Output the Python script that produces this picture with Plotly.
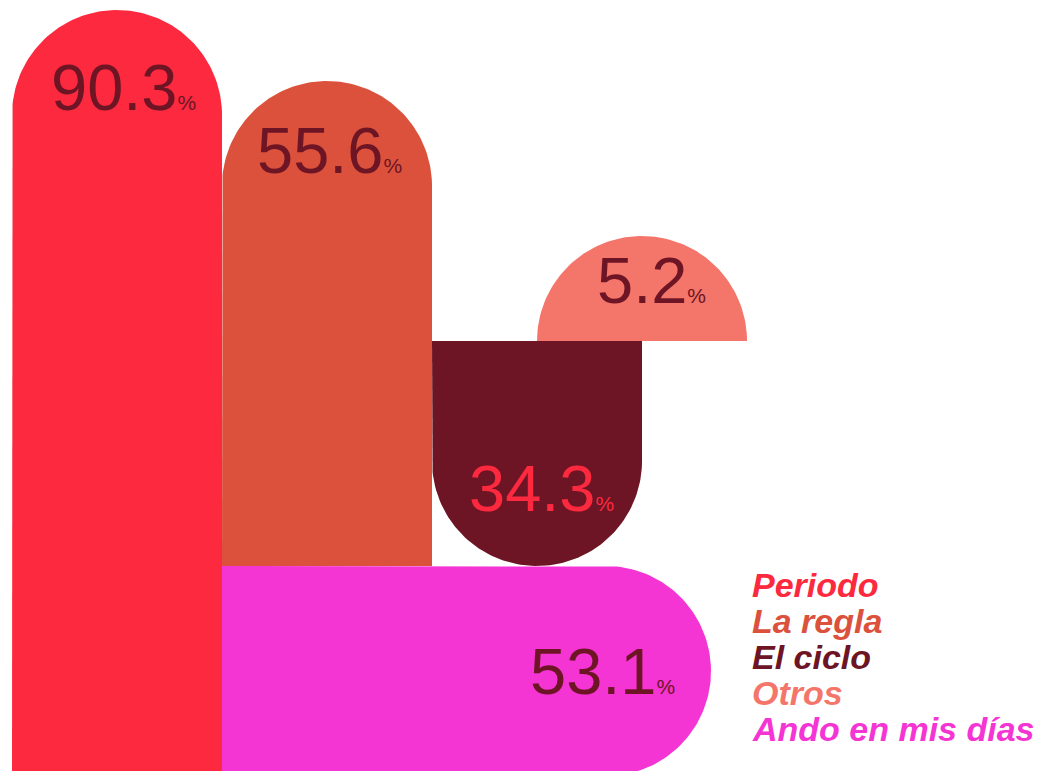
import numpy as np
import plotly.graph_objects as go

# ---------------- data ----------------
categories = ["Periodo", "La regla", "El ciclo", "Otros", "Ando en mis días"]
values = [90.3, 55.6, 34.3, 5.2, 53.1]

# ---------------- style ----------------
bar_colors = ["#FC293F", "#DC513B", "#6D1524", "#F4756A", "#F535D3"]
label_colors = ["#6D1524", "#6D1524", "#FC293F", "#6D1524", "#6D1524"]

# ---------------- infographic layout (pixel units) ----------------
W, H = 1038, 771
BAR_W = 210.0
R = BAR_W / 2
# each bar: (cross-axis start, base position, direction, extent)
geom = [
    (12.0, 776.0, "up", 766.0),
    (222.0, 566.0, "up", 485.0),
    (432.0, 341.0, "down", 225.0),
    (537.0, 341.0, "up", 105.0),
    (566.0, 222.0, "right", 489.0),
]
# label centre relative to the bar tip (along, across)
label_off = [(77, 6), (69, 2), (78, 4), (44, 9), (109, 0)]


def pill(c0, base, d, ext, n=90):
    """Polygon of a bar with a rounded (semicircular) tip."""
    cc = c0 + R
    if d in ("up", "down"):
        s = -1 if d == "up" else 1
        tipc = base + s * (ext - R)
        th = np.linspace(np.pi, 0, n)
        xs = [c0, c0] + list(cc + R * np.cos(th)) + [c0 + BAR_W, c0]
        ys = [base, tipc] + list(tipc + s * R * np.sin(th)) + [base, base]
        return xs, ys
    tipc = base + (ext - R)
    th = np.linspace(np.pi / 2, -np.pi / 2, n)
    ys = [c0, c0] + list(cc - R * np.sin(th)) + [c0 + BAR_W, c0 + BAR_W, c0]
    xs = [base, tipc] + list(tipc + R * np.cos(th)) + [tipc, base, base]
    return xs, ys


fig = go.Figure()
for i in [0, 4, 1, 2, 3]:
    c0, base, d, ext = geom[i]
    xs, ys = pill(c0, base, d, ext)
    fig.add_trace(go.Scatter(
        x=xs, y=ys, mode="lines", fill="toself",
        fillcolor=bar_colors[i], line=dict(width=0, color=bar_colors[i]),
        hoverinfo="skip", showlegend=False, name=categories[i],
    ))

annotations = []
for i, v in enumerate(values):
    c0, base, d, ext = geom[i]
    along, across = label_off[i]
    if d == "up":
        lx, ly = c0 + R + across, base - ext + along
    elif d == "down":
        lx, ly = c0 + R + across, base + ext - along
    else:
        lx, ly = base + ext - along, c0 + R + across
    annotations.append(dict(
        x=lx, y=ly, xref="x", yref="y", showarrow=False,
        xanchor="center", yanchor="middle",
        text=f"{v}<span style='font-size:21px'>%</span>",
        font=dict(family="Liberation Sans, Arial, sans-serif", size=65,
                  color=label_colors[i]),
    ))

# category list
leg_x = 750
leg_y0 = 585
leg_dy = 36
for i, name in enumerate(categories):
    annotations.append(dict(
        x=leg_x, y=leg_y0 + i * leg_dy, xref="x", yref="y", showarrow=False,
        xanchor="left", yanchor="middle", text=name,
        font=dict(family="Liberation Sans, Arial, sans-serif", size=34,
                  color=bar_colors[i], weight="bold", style="italic"),
    ))

fig.update_layout(
    width=W, height=H,
    margin=dict(l=0, r=0, t=0, b=0),
    paper_bgcolor="white", plot_bgcolor="white",
    xaxis=dict(range=[0, W], visible=False, fixedrange=True),
    yaxis=dict(range=[H, 0], visible=False, fixedrange=True),
    annotations=annotations,
)

fig.write_html("out.html", config={"displayModeBar": False},
               post_script="document.body.style.margin='0';document.body.style.overflow='hidden';")
